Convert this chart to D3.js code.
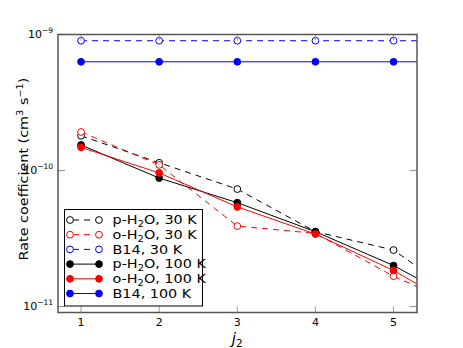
<!DOCTYPE html>
<html>
<head>
<meta charset="utf-8">
<script src="https://cdn.jsdelivr.net/npm/d3@7"></script>
<style>
  body { margin: 0; background: #fff; }
  svg text { font-family: "DejaVu Sans", sans-serif; }
</style>
</head>
<body>
<svg id="chart" width="463" height="348"></svg>
<script>
'use strict';

// j2 values (6 lies outside the axis, lines run off to it)
const j2 = [1, 2, 3, 4, 5, 6];
const pH2O30 = [1.80e-10, 1.14e-10, 7.3e-11, 3.55e-11, 2.6e-11, 1.02e-11];
const oH2O30 = [1.92e-10, 1.10e-10, 3.9e-11, 3.45e-11, 1.67e-11, 9.3e-12];
const b14_30 = [9.0e-10, 9.0e-10, 9.0e-10, 9.0e-10, 9.0e-10, 9.0e-10];
const pH2O100 = [1.54e-10, 8.8e-11, 5.8e-11, 3.55e-11, 2.0e-11, 9.8e-12];
const oH2O100 = [1.48e-10, 9.6e-11, 5.4e-11, 3.41e-11, 1.84e-11, 8.6e-12];
const b14_100 = [6.3e-10, 6.3e-10, 6.3e-10, 6.3e-10, 6.3e-10, 6.3e-10];
const xTicks = [1, 2, 3, 4, 5];
const yTicks = [-9, -10, -11];

const series = [
  {name: "p", temp: "30 K", values: pH2O30, color: "#000000", dashed: true},
  {name: "o", temp: "30 K", values: oH2O30, color: "#ff0000", dashed: true},
  {name: "B14", temp: "30 K", values: b14_30, color: "#0000ff", dashed: true},
  {name: "p", temp: "100 K", values: pH2O100, color: "#000000", dashed: false},
  {name: "o", temp: "100 K", values: oH2O100, color: "#ff0000", dashed: false},
  {name: "B14", temp: "100 K", values: b14_100, color: "#0000ff", dashed: false}
];

let svg = d3.select("#chart");
let margin = {top: 34.5, right: 46, bottom: 35.5, left: 58},
  width = 463 - margin.left - margin.right,
  height = 348 - margin.top - margin.bottom;

let x = d3.scaleLinear().domain([0.705, 5.3]).range([0, width]);
let y = d3.scaleLog().domain([1e-9 * Math.pow(10, -278 / 136), 1e-9]).range([height, 0]);

let g = svg.append("g").attr("transform", "translate(" + margin.left + "," + margin.top + ")");

svg.append("defs").append("clipPath").attr("id", "clip")
  .append("rect").attr("width", width).attr("height", height);

// data lines and markers
let plot = g.append("g").attr("clip-path", "url(#clip)");
let line = d3.line().x((d, i) => x(j2[i])).y(d => y(d));

series.forEach(function (s) {
  plot.append("path")
    .attr("d", line(s.values))
    .attr("fill", "none")
    .attr("stroke", s.color)
    .attr("stroke-width", 1)
    .attr("stroke-dasharray", s.dashed ? "6,5" : null);
});
series.forEach(function (s) {
  plot.selectAll(null)
    .data(s.values.slice(0, 5))
    .enter().append("circle")
    .attr("cx", (d, i) => x(j2[i]))
    .attr("cy", d => y(d))
    .attr("r", 3.4)
    .attr("fill", s.dashed ? "#fff" : s.color)
    .attr("stroke", s.color)
    .attr("stroke-width", 1);
});

// ticks (inside, gray) on all four sides
const tickColor = "#999";
xTicks.forEach(function (t) {
  g.append("line").attr("x1", x(t)).attr("x2", x(t)).attr("y1", height).attr("y2", height - 6)
    .attr("stroke", tickColor).attr("stroke-width", 1);
  g.append("line").attr("x1", x(t)).attr("x2", x(t)).attr("y1", 0).attr("y2", 6)
    .attr("stroke", tickColor).attr("stroke-width", 1);
  g.append("text").attr("x", x(t)).attr("y", height + 13.5)
    .attr("text-anchor", "middle").attr("font-size", 11).text(t);
});
yTicks.forEach(function (e) {
  let yy = y(Math.pow(10, e));
  g.append("line").attr("x1", 0).attr("x2", 7).attr("y1", yy).attr("y2", yy)
    .attr("stroke", tickColor).attr("stroke-width", 1.2);
  g.append("line").attr("x1", width).attr("x2", width - 7).attr("y1", yy).attr("y2", yy)
    .attr("stroke", tickColor).attr("stroke-width", 1.2);
  let t = g.append("text").attr("x", -5).attr("y", yy + 3.5)
    .attr("text-anchor", "end").attr("font-size", 11);
  t.append("tspan").text("10");
  t.append("tspan").attr("dy", -5).attr("font-size", 7.5).text("\u2212" + (-e));
});

// frame
g.append("rect").attr("width", width).attr("height", height)
  .attr("fill", "none").attr("stroke", "#555").attr("stroke-width", 1.5);

// axis labels (glyphs in the reference are a bit wide, hence the stretch)
let yl = svg.append("text")
  .attr("transform", "translate(27.5,169) rotate(-90) scale(1.15,1)")
  .attr("text-anchor", "middle").attr("font-size", 12.5);
yl.append("tspan").text("Rate coefficient (cm");
yl.append("tspan").attr("dy", -5).attr("font-size", 8.5).text("3");
yl.append("tspan").attr("dy", 5).text(" s");
yl.append("tspan").attr("dy", -5).attr("font-size", 8.5).text("\u22121");
yl.append("tspan").attr("dy", 5).text(")");

let xl = svg.append("text").attr("x", margin.left + x(3)).attr("y", 344)
  .attr("text-anchor", "middle").attr("font-size", 15)
  .attr("font-family", "DejaVu Serif").attr("font-style", "italic");
xl.append("tspan").text("j");
xl.append("tspan").attr("dy", 2.5).attr("font-size", 10.5).attr("font-style", "normal").text("2");

// legend
let lg = svg.append("g").attr("transform", "translate(64.5,209.5)");
lg.append("rect").attr("width", 138).attr("height", 96.5)
  .attr("fill", "#fff").attr("stroke", "#000").attr("stroke-width", 1);
series.forEach(function (s, i) {
  let ry = 10.5 + i * 14.7;
  lg.append("line").attr("x1", 5.5).attr("x2", 34.5).attr("y1", ry).attr("y2", ry)
    .attr("stroke", s.color).attr("stroke-width", 1)
    .attr("stroke-dasharray", s.dashed ? "6,5" : null)
    .attr("stroke-dashoffset", s.dashed ? -3 : null);
  [5.5, 34.5].forEach(function (cx) {
    lg.append("circle").attr("cx", cx).attr("cy", ry).attr("r", 3.4)
      .attr("fill", s.dashed ? "#fff" : s.color)
      .attr("stroke", s.color).attr("stroke-width", 1);
  });
  let t = lg.append("text")
    .attr("transform", "translate(48," + (ry + 4.3) + ") scale(1.17,1)")
    .attr("font-size", 12.3);
  if (s.name === "B14") {
    t.text("B14, " + s.temp);
  } else {
    t.append("tspan").text(s.name + "-H");
    t.append("tspan").attr("dy", 2.5).attr("font-size", 8.5).text("2");
    t.append("tspan").attr("dy", -2.5).text("O, " + s.temp);
  }
});
</script>
</body>
</html>
